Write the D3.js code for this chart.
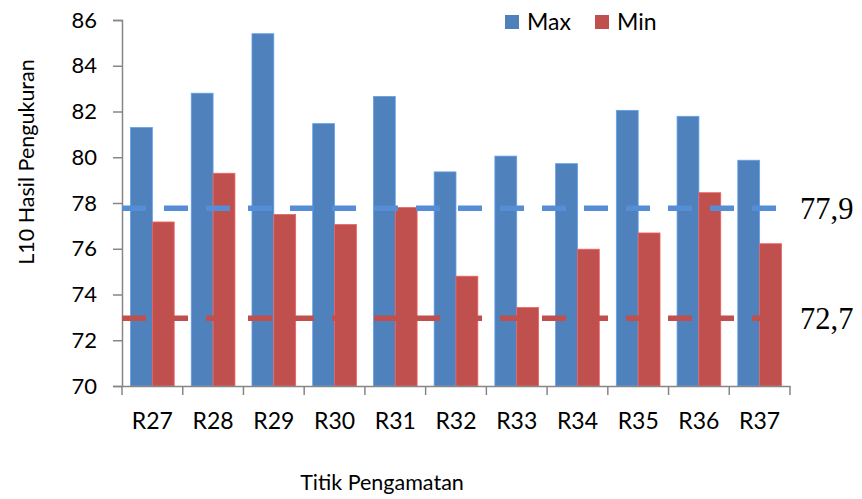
<!DOCTYPE html>
<html><head><meta charset="utf-8">
<script src="https://cdn.jsdelivr.net/npm/d3@7"></script>
<style>body{margin:0;background:#fff}svg{display:block}</style>
</head><body>
<script>
const categories = ["R27","R28","R29","R30","R31","R32","R33","R34","R35","R36","R37"];
const maxValues = [81.3,82.8,85.4,81.47,82.66,79.36,80.05,79.72,82.05,81.79,79.87];
const minValues = [77.17,79.3,77.5,77.06,77.8,74.8,73.43,75.98,76.69,78.45,76.22];
const seriesNames = ["Max","Min"];
const seriesColors = ["#4F81BD","#C0504D"];
const refValues = [77.77,72.96];
const refLabels = ["77,9","72,7"];
const refColors = ["#558ED5","#C0504D"];
const yTicks = [70,72,74,76,78,80,82,84,86];

const W=862,H=499;
const L=122,R=790,T=20,B=386;
const svg=d3.select("body").append("svg").attr("width",W).attr("height",H);
const x=d3.scaleBand().domain(categories).range([L,R]).paddingInner(0).paddingOuter(0);
const xs=d3.scaleBand().domain(seriesNames).range([0,x.bandwidth()]).paddingInner(0).paddingOuter(0.39);
const y=d3.scaleLinear().domain([70,86]).range([B,T]);
const font="Lato, 'Open Sans', sans-serif";

// bars
const data=[maxValues,minValues];
data.forEach((vals,si)=>{
  svg.append("g").selectAll("rect").data(vals).join("rect")
    .attr("x",(d,i)=>x(categories[i])+xs(seriesNames[si]))
    .attr("width",xs.bandwidth())
    .attr("y",d=>y(d)).attr("height",d=>B-y(d))
    .attr("fill",seriesColors[si])
    .attr("stroke",d3.color(seriesColors[si]).brighter(0.6)).attr("stroke-width",0.8);
});

// axes
const ya=svg.append("g").attr("transform",`translate(${L},0)`)
  .call(d3.axisLeft(y).tickValues(yTicks).tickSize(9).tickPadding(16).tickFormat(d3.format("d")));
ya.select(".domain").attr("stroke","#868686").attr("stroke-width",1.5);
ya.selectAll(".tick line").attr("stroke","#868686").attr("stroke-width",1.5);
ya.selectAll(".tick text").attr("font-family",font).attr("font-size",22).attr("fill","#000");

const xa=svg.append("g").attr("transform",`translate(0,${B})`)
  .call(d3.axisBottom(x).tickSize(0).tickPadding(27));
xa.select(".domain").attr("stroke","#868686").attr("stroke-width",1.5);
xa.selectAll(".tick text").attr("font-family",font).attr("font-size",23).attr("fill","#000");
// category boundary ticks
const bounds=categories.map(c=>x(c)).concat([R]);
svg.append("g").selectAll("line").data(bounds).join("line")
  .attr("x1",d=>d).attr("x2",d=>d).attr("y1",B).attr("y2",B+9)
  .attr("stroke","#868686").attr("stroke-width",1.5);

// reference dashed lines
refValues.forEach((v,i)=>{
  svg.append("line").attr("x1",L).attr("x2",777).attr("y1",y(v)).attr("y2",y(v))
    .attr("stroke",refColors[i]).attr("stroke-width",5.5).attr("stroke-dasharray","24,18");
  svg.append("text").attr("x",800).attr("y",y(v)+11).text(refLabels[i])
    .attr("font-family","'Liberation Serif','Times New Roman',serif").attr("font-size",30.5).attr("fill","#000");
});

// legend
const lg=svg.append("g");
const lx=[505,595];
seriesNames.forEach((n,i)=>{
  lg.append("rect").attr("x",lx[i]).attr("y",15).attr("width",14).attr("height",14).attr("fill",seriesColors[i]);
  lg.append("text").attr("x",lx[i]+22).attr("y",30).text(n)
    .attr("font-family",font).attr("font-size",23).attr("fill","#000");
});

// titles
svg.append("text").attr("transform","translate(34,162) rotate(-90)").attr("text-anchor","middle")
  .text("L10 Hasil Pengukuran").attr("font-family",font).attr("font-size",21.5).attr("fill","#000");
svg.append("text").attr("x",382).attr("y",490).attr("text-anchor","middle")
  .text("Titik Pengamatan").attr("font-family",font).attr("font-size",21.5).attr("fill","#000");
</script>
</body></html>
